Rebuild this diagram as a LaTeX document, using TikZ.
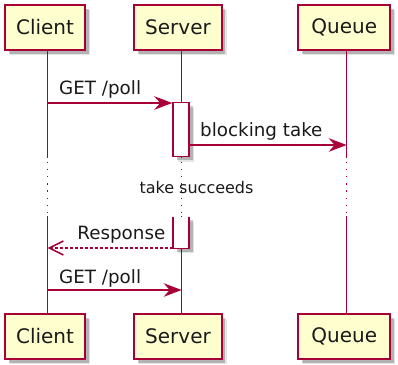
\documentclass[tikz,border=0pt]{standalone}
\usepackage{fontspec}
\setmainfont{DejaVu Sans}
\usetikzlibrary{arrows.meta,shadows}
\definecolor{umlred}{HTML}{A80036}
\definecolor{umlfill}{HTML}{FEFECE}
\definecolor{umltext}{HTML}{1A1A1A}

\begin{document}
\begin{tikzpicture}[x=1pt,y=-1pt,
  softshadow/.style={
    general shadow={shadow xshift=5pt,shadow yshift=-5pt,fill=black,opacity=0.10},
    general shadow={shadow xshift=3.5pt,shadow yshift=-3.5pt,fill=black,opacity=0.22}},
  participant/.style={draw=umlred,fill=umlfill,line width=1.8pt,minimum height=45pt,
    inner sep=0pt,text=umltext,font=\fontsize{20}{24}\selectfont,softshadow},
  lifeline/.style={draw=umlred,line width=1.5pt},
  delayline/.style={draw=umlred,line width=1.5pt,dash pattern=on 1.4pt off 5.8pt},
  activation/.style={fill=white,inner sep=0pt,minimum width=16pt,softshadow},
  msg/.style={draw=umlred,line width=1.5pt,-{Stealth[length=18pt,width=13.5pt,inset=6pt]}},
  reply/.style={draw=umlred,line width=1.5pt,dash pattern=on 2.5pt off 2.5pt,
    -{Straight Barb[length=14pt,width=14pt,line width=1.5pt]}},
  msglabel/.style={font=\fontsize{18.3}{22}\selectfont,text=umltext,inner sep=0pt},
  delaylabel/.style={font=\fontsize{16}{19}\selectfont,text=umltext,inner sep=0pt}
]
\useasboundingbox (0,0) rectangle (398,364);

% lifeline x positions
\coordinate (cl) at (47.7,0);
\coordinate (sl) at (181.7,0);
\coordinate (ql) at (346.7,0);

% participants, top and bottom
\node[participant,minimum width=80pt]   (clientTop) at (45,27.5)    {Client};
\node[participant,minimum width=87.4pt] (serverTop) at (178,27.5)   {Server};
\node[participant,minimum width=91.7pt] (queueTop)  at (344.2,27.5) {Queue};
\node[participant,minimum width=80pt]   (clientBot) at (45,336.5)    {Client};
\node[participant,minimum width=87.4pt] (serverBot) at (178,336.5)   {Server};
\node[participant,minimum width=91.7pt] (queueBot)  at (344.2,336.5) {Queue};

% lifelines, broken by the delay
\coordinate (dTop) at (0,157.5);
\coordinate (dBot) at (0,215.5);
\foreach \p/\l in {client/cl,server/sl,queue/ql}{
  \draw[lifeline] (\p Top.south -| \l) -- (dTop -| \l);
  \draw[delayline] ([yshift=-4pt]dTop -| \l) -- (dBot -| \l);
  \draw[lifeline] (dBot -| \l) -- (\p Bot.north -| \l);
}

% activations on Server
\node[activation,draw=umlred,line width=1.5pt,minimum height=54pt] (act1) at (181,129.7) {};
\node[activation,minimum height=31.6pt] (act2) at (181,232.5) {};
\draw[umlred,line width=1.5pt] (act2.north west) -- (act2.south west) -- (act2.south east) -- (act2.north east);

% messages
\coordinate (y1) at (0,103);
\coordinate (y2) at (0,145);
\coordinate (y4) at (0,248);
\coordinate (y5) at (0,290);

\draw[msg] (y1 -| cl) -- (y1 -| act1.west);
\node[msglabel,anchor=base west] (m1) at (59,94) {GET /poll};

\draw[msg] (y2 -| act1.east) -- (y2 -| ql);
\node[msglabel,anchor=base west] (m2) at (200,136.5) {blocking take};

\node[delaylabel] (delay) at (196.5,187.5) {take succeeds};

\draw[reply] (y4 -| act2.west) -- (y4 -| cl);
\node[msglabel,anchor=base east] (m4) at (165.5,239) {Response};

\draw[msg] (y5 -| cl) -- (y5 -| sl);
\node[msglabel,anchor=base west] (m5) at (59,283) {GET /poll};
\end{tikzpicture}
\end{document}
